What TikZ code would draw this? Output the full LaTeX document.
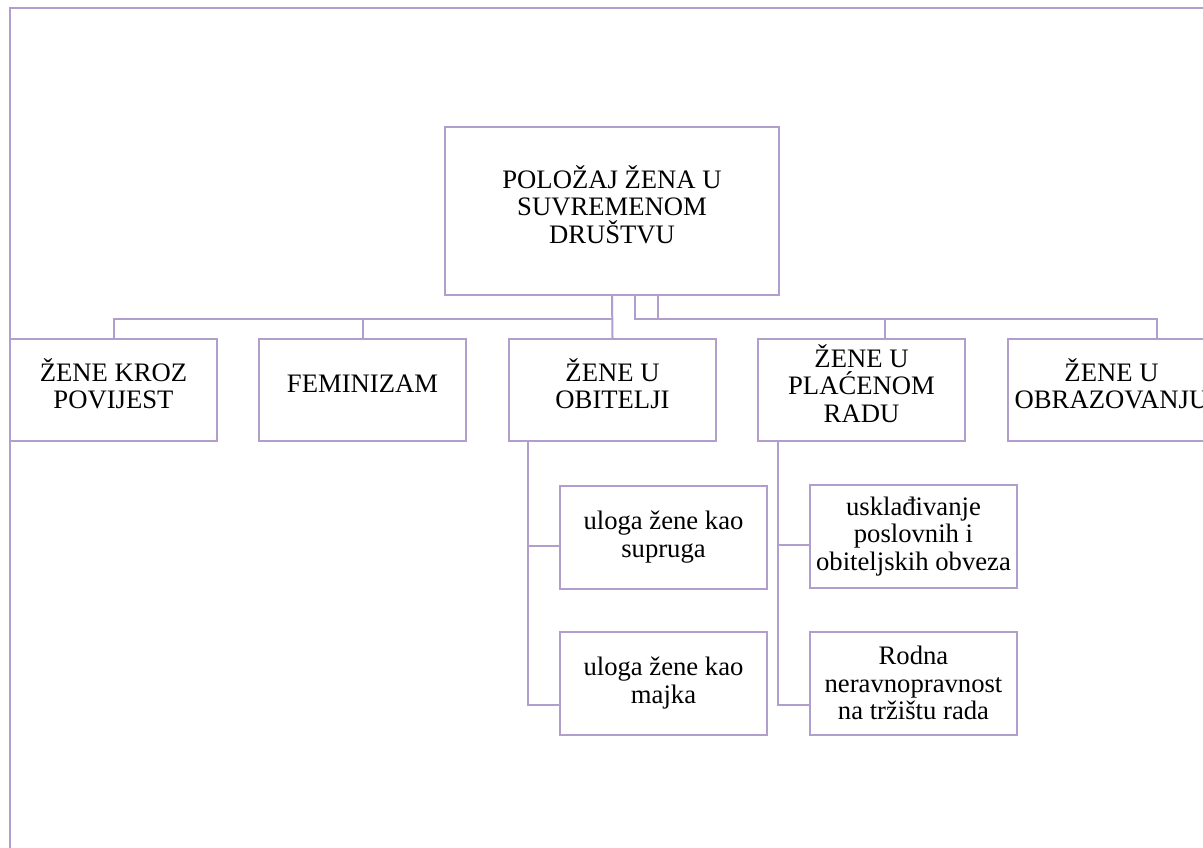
\documentclass[tikz,border=0pt]{standalone}
\usepackage{fontspec}
\setmainfont{Liberation Serif}
\definecolor{lavender}{RGB}{178,158,204}
\tikzset{
  box/.style={draw=lavender, line width=1.5pt, minimum width=155.25pt, minimum height=76.5pt,
    inner sep=0pt, align=center, font=\fontsize{20}{20.5}\selectfont},
  capsbox/.style={box, text depth=10pt},
  subbox/.style={box, minimum height=77.25pt},
  link/.style={draw=lavender, line width=1.5pt},
}
\begin{document}
\begin{tikzpicture}[x=0.75pt,y=-0.75pt]
  \useasboundingbox (0,0) rectangle (1203,847);
  \clip (0,0) rectangle (1203,847);

  % Frame
  \draw[link] (10,870) -- (10,8) -- (1230,8);

  % Define nodes
  \node[capsbox, minimum width=250.5pt, minimum height=126pt] (root) at (612,211) {POLOŽAJ ŽENA U\\SUVREMENOM\\DRUŠTVU};
  \node[capsbox] (povijest) at (113.5,390) {ŽENE KROZ\\POVIJEST};
  \node[capsbox] (feminizam) at (362.5,390) {FEMINIZAM};
  \node[capsbox] (obitelj) at (612.5,390) {ŽENE U\\OBITELJI};
  \node[capsbox] (rad) at (861.5,390) {ŽENE U\\PLAĆENOM\\RADU};
  \node[capsbox] (obrazovanje) at (1111.5,390) {ŽENE U\\OBRAZOVANJU};
  \node[subbox] (supruga) at (663.5,537) {uloga žene kao\\supruga};
  \node[subbox] (majka) at (663.5,683) {uloga žene kao\\majka};
  \node[subbox] (obveze) at (913.5,536.5) {usklađivanje\\poslovnih i\\obiteljskih obveza};
  \node[subbox] (trziste) at (913.5,683) {Rodna\\neravnopravnost\\na tržištu rada};

  % Helper points
  \coordinate (bus) at (0,319);
  \coordinate (r1) at ([xshift=17.25pt]root.south);
  \coordinate (r2) at ([xshift=34.5pt]root.south);
  \coordinate (radtop) at ([xshift=17.25pt]rad.north);
  \coordinate (obrtop) at ([xshift=34pt]obrazovanje.north);
  \coordinate (trunk1) at ([xshift=15pt]obitelj.south west);
  \coordinate (trunk2) at ([xshift=15.75pt]rad.south west);

  % Draw edges
  \draw[link] (root.south) -- (obitelj.north);
  \draw[link] (root.south |- bus) -| (povijest.north);
  \draw[link] (root.south |- bus) -| (feminizam.north);
  \draw[link] (r1) -- (r1 |- bus) -| (radtop);
  \draw[link] (r2) -- (r2 |- bus) -| (obrtop);
  \draw[link] (trunk1) |- ([yshift=-16.5pt]majka.west);
  \draw[link] ([yshift=-6.75pt]supruga.west) -| (trunk1);
  \draw[link] (trunk2) |- ([yshift=-16.5pt]trziste.west);
  \draw[link] ([yshift=-6.4pt]obveze.west) -| (trunk2);
\end{tikzpicture}
\end{document}
